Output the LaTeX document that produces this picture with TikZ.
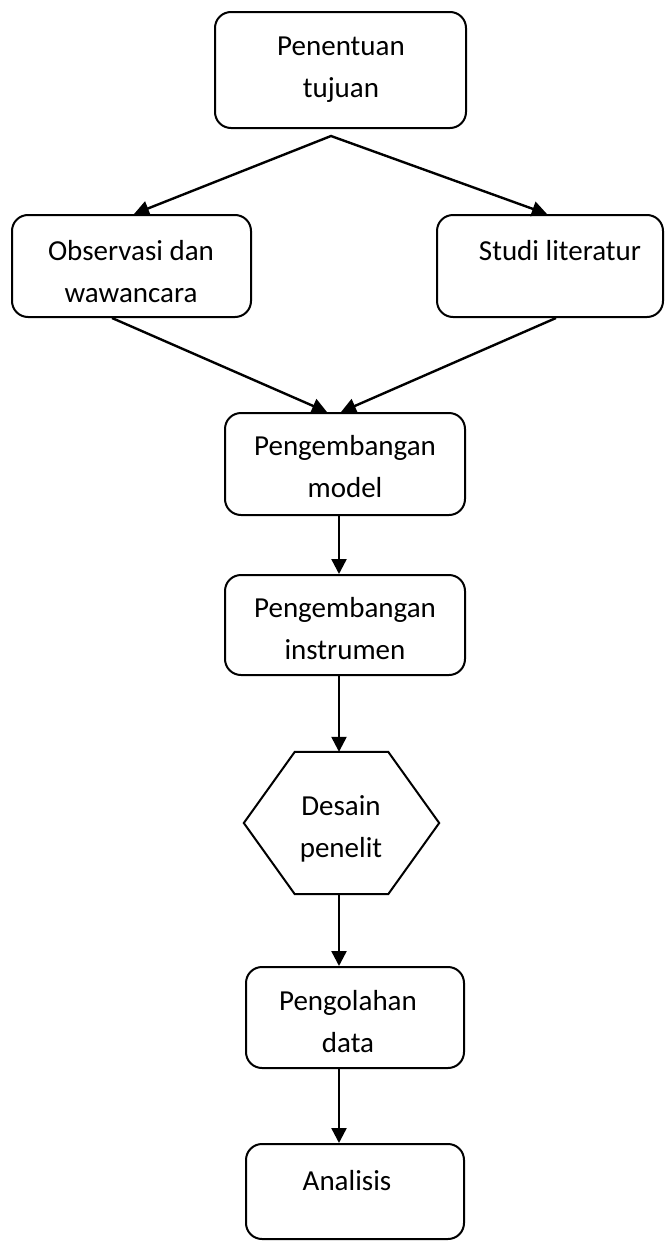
\documentclass[tikz,border=0pt]{standalone}
\usepackage{fontspec}
\setmainfont{Carlito}
\usetikzlibrary{arrows.meta}
\begin{document}
\begin{tikzpicture}[x=1pt,y=-1pt,
  box/.style={draw, line width=2pt, rounded corners=16pt, inner sep=0pt},
  lbl/.style={align=center, inner sep=0pt, text height=21pt, anchor=north, font=\fontsize{29}{42}\selectfont},
  lbltwo/.style={lbl, text height=63pt},
  arr/.style={line width=2.4pt, -{Triangle[length=15pt,width=15pt]}}]
\useasboundingbox (0,0) rectangle (666,1242);

% boxes
\node[box, minimum width=251pt, minimum height=116pt] (top) at (340.5,70) {};
\node[box, minimum width=239pt, minimum height=102pt] (obs) at (131.5,266) {};
\node[box, minimum width=226pt, minimum height=102pt] (studi) at (550,266) {};
\node[box, minimum width=240pt, minimum height=102pt] (model) at (345,464) {};
\node[box, minimum width=240pt, minimum height=100pt] (instr) at (345,625) {};
\node[minimum width=195pt, minimum height=142pt, inner sep=0pt] (hex) at (341.5,823) {};
\draw[line width=2pt] (hex.west) -- ([xshift=51pt]hex.north west) -- ([xshift=-51pt]hex.north east)
  -- (hex.east) -- ([xshift=-51pt]hex.south east) -- ([xshift=51pt]hex.south west) -- cycle;
\node[box, minimum width=218pt, minimum height=101pt] (olah) at (355,1017.5) {};
\node[box, minimum width=218pt, minimum height=95pt] (anal) at (355,1191.5) {};

% labels
\node[lbltwo] (ttop) at (341,34) {Penentuan\\tujuan};
\node[lbltwo] (tobs) at (131,239) {Observasi dan\\wawancara};
\node[lbl] (tstudi) at (560,239) {Studi literatur};
\node[lbltwo] (tmodel) at (345,434) {Pengembangan\\model};
\node[lbltwo] (tinstr) at (345,596) {Pengembangan\\instrumen};
\node[lbltwo] (thex) at (341,794) {Desain\\penelit};
\node[lbltwo] (tolah) at (348,989) {Pengolahan\\data};
\node[lbl] (tanal) at (347,1169) {Analisis};

% connectors
\coordinate (apex) at (331,136);
\coordinate (spine) at (339,0);
\draw[line width=2.4pt, {Triangle[length=15pt,width=15pt]}-{Triangle[length=15pt,width=15pt]}]
  ([xshift=123pt]obs.north west) -- (apex) -- ([xshift=111pt]studi.north west);
\draw[arr] ([xshift=101pt]obs.south west) -- ([xshift=103pt]model.north west);
\draw[arr] ([xshift=120pt]studi.south west) -- ([xshift=117pt]model.north west);
\draw[arr] (model.south -| spine) -- (instr.north -| spine);
\draw[arr] (instr.south -| spine) -- (hex.north -| spine);
\draw[arr] (hex.south -| spine) -- (olah.north -| spine);
\draw[arr] (olah.south -| spine) -- (anal.north -| spine);
\end{tikzpicture}
\end{document}
